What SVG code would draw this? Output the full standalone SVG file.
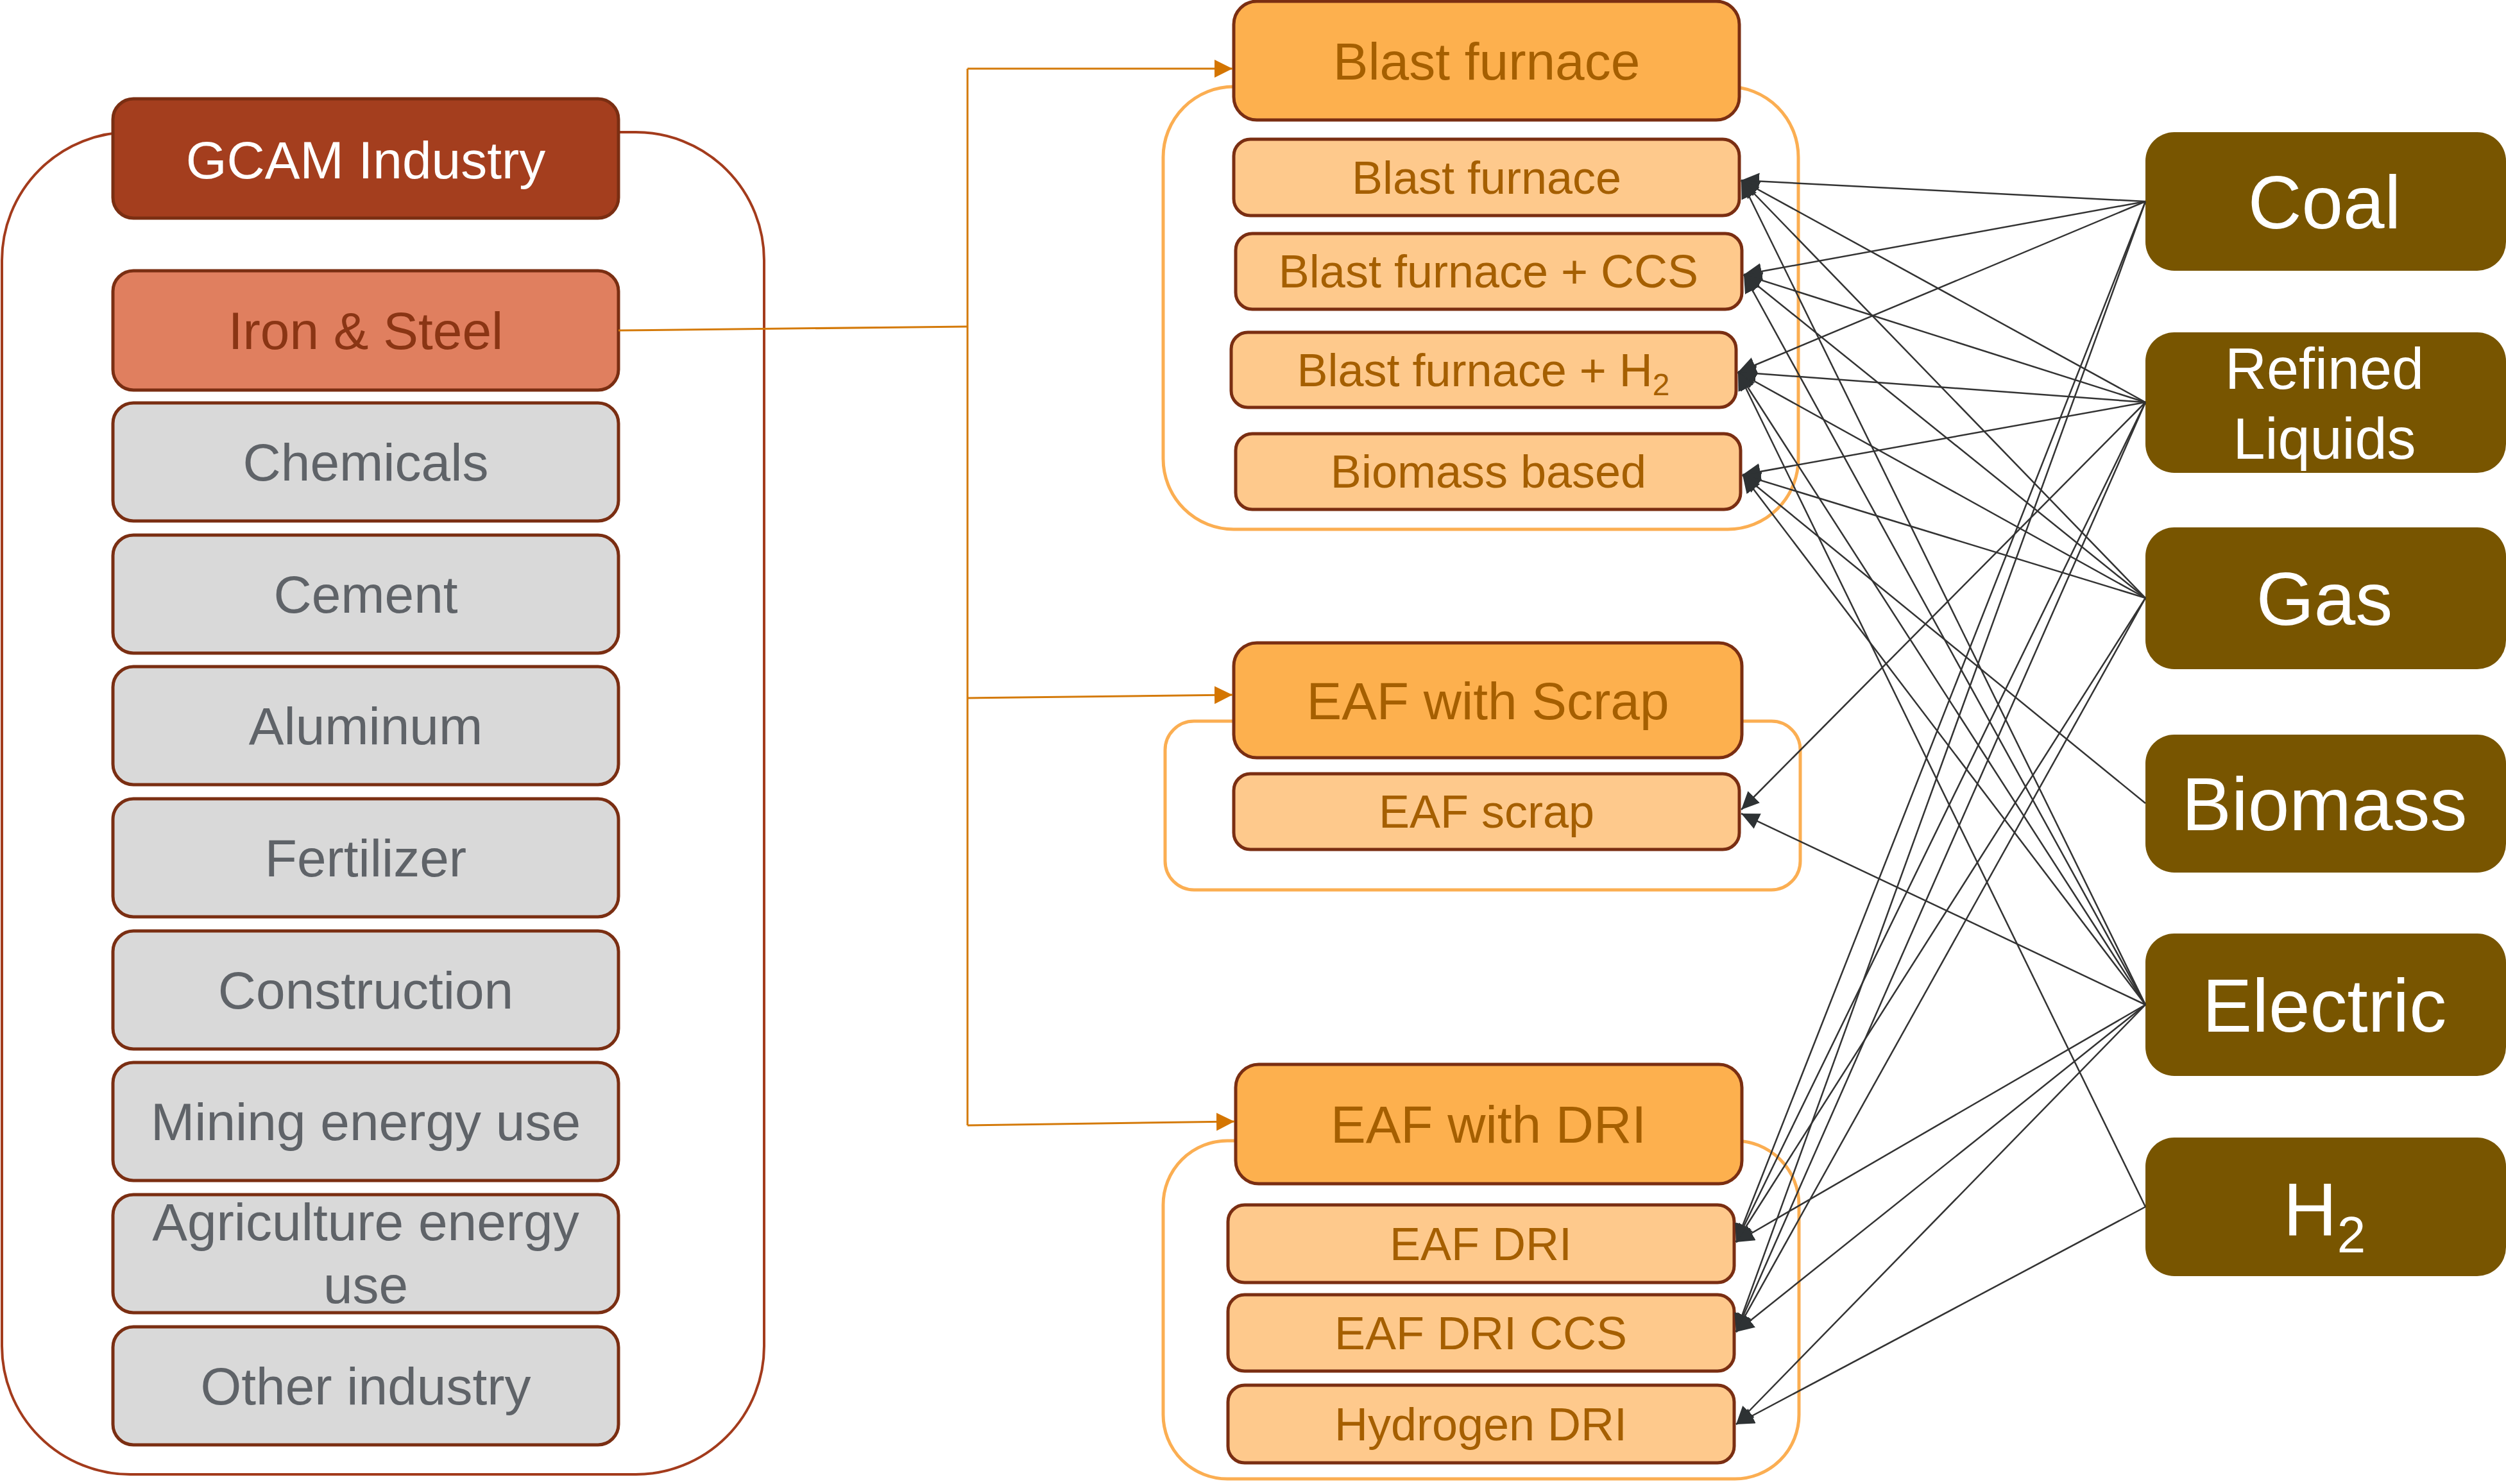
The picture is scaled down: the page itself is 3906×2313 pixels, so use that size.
<svg xmlns="http://www.w3.org/2000/svg" width="3906" height="2313" viewBox="0 0 3906 2313">
<defs>
<style>
.t{font-family:"Liberation Sans",Arial,Helvetica,sans-serif;text-anchor:middle}
.cont-ind{fill:none;stroke:#A33B1C;stroke-width:4}
.cont-or{fill:none;stroke:#FBAE52;stroke-width:5}
.bx{stroke:#7A2E12;stroke-width:5}
.gcam{fill:#A43E1E}
.iron{fill:#E07F5F}
.gray{fill:#D9D9D9}
.hdr{fill:#FDB04E}
.sub{fill:#FEC98C}
.en{fill:#785500}
.tw{fill:#FFFFFF}
.tiron{fill:#8A3514}
.tgray{fill:#5F6368}
.tor{fill:#A55F00}
.edge{stroke:#333333;stroke-width:2.5;fill:none;marker-end:url(#ah)}
.oedge{stroke:#D47A0A;stroke-width:3;fill:none}
</style>
<marker id="ah" markerUnits="userSpaceOnUse" markerWidth="30" markerHeight="28" refX="28" refY="13" orient="auto">
<path d="M0,0 L28,13 L0,26 z" fill="#2E3234"/>
</marker>
<marker id="oh" markerUnits="userSpaceOnUse" markerWidth="30" markerHeight="30" refX="28" refY="14" orient="auto">
<path d="M0,0 L28,14 L0,28 z" fill="#D47500"/>
</marker>
</defs>
<rect width="3906" height="2313" fill="#FFFFFF"/>

<g id="containers">
<rect id="container-industry" class="cont-ind" x="3" y="206" width="1188" height="2092" rx="200" ry="200"/>
<rect id="container-bf" class="cont-or" x="1813" y="135" width="990" height="690" rx="110" ry="110"/>
<rect id="container-scrap" class="cont-or" x="1816" y="1124" width="990" height="263" rx="45" ry="45"/>
<rect id="container-dri" class="cont-or" x="1813" y="1778" width="991" height="527" rx="100" ry="100"/>
</g>

<g id="node-gcam-industry"><rect class="bx gcam" x="176" y="154" width="788" height="186" rx="32"/><text class="t tw" x="570" y="278" font-size="82">GCAM Industry</text></g>
<g id="node-iron-steel"><rect class="bx iron" x="176" y="422" width="788" height="186" rx="32"/><text class="t tiron" x="570" y="544" font-size="82">Iron &amp; Steel</text></g>
<g id="node-chemicals"><rect class="bx gray" x="176" y="628" width="788" height="184" rx="32"/><text class="t tgray" x="570" y="749" font-size="82">Chemicals</text></g>
<g id="node-cement"><rect class="bx gray" x="176" y="834" width="788" height="184" rx="32"/><text class="t tgray" x="570" y="955" font-size="82">Cement</text></g>
<g id="node-aluminum"><rect class="bx gray" x="176" y="1039" width="788" height="184" rx="32"/><text class="t tgray" x="570" y="1160" font-size="82">Aluminum</text></g>
<g id="node-fertilizer"><rect class="bx gray" x="176" y="1245" width="788" height="184" rx="32"/><text class="t tgray" x="570" y="1366" font-size="82">Fertilizer</text></g>
<g id="node-construction"><rect class="bx gray" x="176" y="1451" width="788" height="184" rx="32"/><text class="t tgray" x="570" y="1572" font-size="82">Construction</text></g>
<g id="node-mining"><rect class="bx gray" x="176" y="1656" width="788" height="184" rx="32"/><text class="t tgray" x="570" y="1777" font-size="82">Mining energy use</text></g>
<g id="node-agriculture"><rect class="bx gray" x="176" y="1862" width="788" height="184" rx="32"/><text class="t tgray" x="570" y="1933" font-size="82">Agriculture energy</text><text class="t tgray" x="570" y="2031" font-size="82">use</text></g>
<g id="node-other"><rect class="bx gray" x="176" y="2068" width="788" height="184" rx="32"/><text class="t tgray" x="570" y="2189" font-size="82">Other industry</text></g>

<g id="node-blast-furnace-header"><rect class="bx hdr" x="1923" y="2" width="788" height="185" rx="36"/><text class="t tor" x="2317" y="124" font-size="82">Blast furnace</text></g>
<g id="node-bf"><rect class="bx sub" x="1923" y="217" width="788" height="119" rx="26"/><text class="t tor" x="2317" y="302" font-size="72">Blast furnace</text></g>
<g id="node-bf-ccs"><rect class="bx sub" x="1926" y="364" width="789" height="118" rx="26"/><text class="t tor" x="2320" y="448" font-size="72">Blast furnace + CCS</text></g>
<g id="node-bf-h2"><rect class="bx sub" x="1919" y="518" width="787" height="117" rx="26"/><text class="t tor" x="2312" y="602" font-size="72">Blast furnace + H<tspan font-size="48" dy="14">2</tspan></text></g>
<g id="node-biomass-based"><rect class="bx sub" x="1926" y="676" width="787" height="118" rx="26"/><text class="t tor" x="2320" y="760" font-size="72">Biomass based</text></g>

<g id="node-eaf-scrap-header"><rect class="bx hdr" x="1923" y="1002" width="792" height="179" rx="36"/><text class="t tor" x="2319" y="1121" font-size="82">EAF with Scrap</text></g>
<g id="node-eaf-scrap"><rect class="bx sub" x="1923" y="1206" width="788" height="118" rx="26"/><text class="t tor" x="2317" y="1290" font-size="72">EAF scrap</text></g>

<g id="node-eaf-dri-header"><rect class="bx hdr" x="1926" y="1659" width="789" height="186" rx="36"/><text class="t tor" x="2320" y="1781" font-size="82">EAF with DRI</text></g>
<g id="node-eaf-dri"><rect class="bx sub" x="1914" y="1878" width="789" height="121" rx="26"/><text class="t tor" x="2308" y="1964" font-size="72">EAF DRI</text></g>
<g id="node-eaf-dri-ccs"><rect class="bx sub" x="1914" y="2018" width="789" height="119" rx="26"/><text class="t tor" x="2308" y="2103" font-size="72">EAF DRI CCS</text></g>
<g id="node-hydrogen-dri"><rect class="bx sub" x="1914" y="2159" width="789" height="121" rx="26"/><text class="t tor" x="2308" y="2245" font-size="72">Hydrogen DRI</text></g>

<g id="node-coal"><rect class="en" x="3344" y="206" width="562" height="216" rx="45"/><text class="t tw" x="3623" y="356" font-size="116">Coal</text></g>
<g id="node-refined-liquids"><rect class="en" x="3344" y="518" width="562" height="219" rx="45"/><text class="t tw" x="3623" y="606" font-size="90">Refined</text><text class="t tw" x="3623" y="715" font-size="90">Liquids</text></g>
<g id="node-gas"><rect class="en" x="3344" y="822" width="562" height="221" rx="45"/><text class="t tw" x="3623" y="974" font-size="116">Gas</text></g>
<g id="node-biomass"><rect class="en" x="3344" y="1145" width="562" height="215" rx="45"/><text class="t tw" x="3623" y="1294" font-size="116">Biomass</text></g>
<g id="node-electric"><rect class="en" x="3344" y="1455" width="562" height="222" rx="45"/><text class="t tw" x="3623" y="1608" font-size="116">Electric</text></g>
<g id="node-h2"><rect class="en" x="3344" y="1773" width="562" height="216" rx="45"/><text class="t tw" x="3623" y="1925" font-size="116">H<tspan font-size="80" dy="27">2</tspan></text></g>

<g id="connectors">
<path class="oedge" d="M964,515 L1508,509"/>
<path class="oedge" d="M1508,107 L1508,1754"/>
<path class="oedge" d="M1508,107 L1921,107" marker-end="url(#oh)"/>
<path class="oedge" d="M1508,1088 L1921,1083" marker-end="url(#oh)"/>
<path class="oedge" d="M1508,1754 L1924,1748" marker-end="url(#oh)"/>

<path class="edge" d="M3344,314 L2714,281"/>
<path class="edge" d="M3344,314 L2718,428"/>
<path class="edge" d="M3344,314 L2709,580"/>
<path class="edge" d="M3344,314 L2706,1936"/>
<path class="edge" d="M3344,314 L2706,2076"/>

<path class="edge" d="M3344,627 L2714,281"/>
<path class="edge" d="M3344,627 L2718,428"/>
<path class="edge" d="M3344,627 L2709,580"/>
<path class="edge" d="M3344,627 L2716,740"/>
<path class="edge" d="M3344,627 L2714,1262"/>
<path class="edge" d="M3344,627 L2706,1936"/>
<path class="edge" d="M3344,627 L2706,2076"/>

<path class="edge" d="M3344,932 L2714,281"/>
<path class="edge" d="M3344,932 L2718,428"/>
<path class="edge" d="M3344,932 L2709,580"/>
<path class="edge" d="M3344,932 L2716,740"/>
<path class="edge" d="M3344,932 L2706,1936"/>
<path class="edge" d="M3344,932 L2706,2076"/>

<path class="edge" d="M3344,1252 L2716,740"/>

<path class="edge" d="M3344,1566 L2714,281"/>
<path class="edge" d="M3344,1566 L2718,428"/>
<path class="edge" d="M3344,1566 L2709,580"/>
<path class="edge" d="M3344,1566 L2716,740"/>
<path class="edge" d="M3344,1566 L2714,1268"/>
<path class="edge" d="M3344,1566 L2706,1936"/>
<path class="edge" d="M3344,1566 L2706,2076"/>
<path class="edge" d="M3344,1566 L2706,2220"/>

<path class="edge" d="M3344,1881 L2709,580"/>
<path class="edge" d="M3344,1881 L2706,2220"/>
</g>
</svg>
